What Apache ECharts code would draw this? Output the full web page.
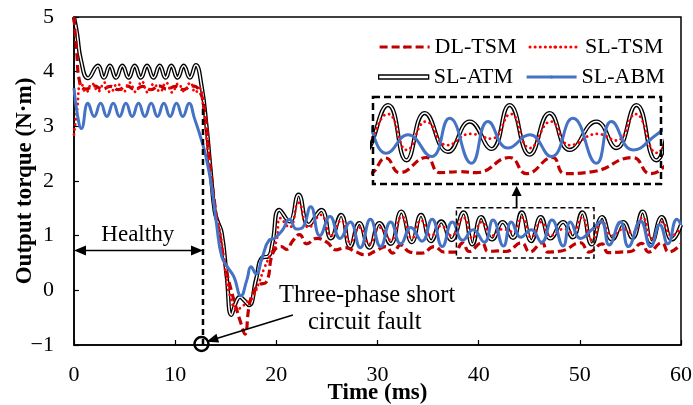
<!DOCTYPE html>
<html><head><meta charset="utf-8">
<script src="https://cdn.jsdelivr.net/npm/echarts@6/dist/echarts.min.js"></script>
<style>html,body{margin:0;padding:0;background:#fff}#c{width:693px;height:405px}</style>
</head><body><div id="c"></div>
<script>
// ---------- data (time in ms, torque in N·m) ----------
const seriesNames = ['DL-TSM', 'SL-TSM', 'SL-ATM', 'SL-ABM'];
const xTickLabels = [0, 10, 20, 30, 40, 50, 60];
const yTickLabels = [-1, 0, 1, 2, 3, 4, 5];
const faultTime = 12.75;
const healthyLevel = 0.73;
const zoomT = [37.8, 51.4];
const zoomV = [0.59, 1.51];

const dlTsm = [
  [0,5.0],[0.25,4.4],[0.6,3.78],[1.2,3.68],[2.0,3.74],[2.8,3.68],[3.6,3.73],[4.4,3.67],[5.2,3.74],[6.0,3.68],
  [6.8,3.73],[7.6,3.67],[8.4,3.74],[9.2,3.68],[10.0,3.73],[10.8,3.67],[11.6,3.74],[12.3,3.68],[12.9,3.3],[13.4,2.4],
  [13.9,1.6],[14.4,1.0],[14.9,0.5],[15.4,0.1],[16.0,-0.3],[16.5,-0.6],[16.9,-0.8],[17.3,-0.3],[17.7,-0.05],[18.3,0.1],
  [19.0,0.15],[19.7,0.7],[20.5,0.8],[21.0,0.75],[21.6,0.9],[22.3,1.02],[23.0,0.85],[24.0,0.95],[25.0,0.88],[25.9,0.74],
  [26.8,0.78],[27.9,0.7],[28.8,0.65],[29.8,0.72],[30.8,0.8],[31.5,0.68],[32.3,0.83],[33.2,0.7],[34.4,0.68],[35.6,0.8],
  [36.6,0.7],[37.6,0.7],[38.4,0.865],[39.06,0.71],[40.32,0.87],[40.95,0.71],[41.9,0.72],[42.68,0.71],[44.25,0.87],[45.05,0.7],
  [46.28,0.87],[46.85,0.7],[48.17,0.72],[50.06,0.87],[50.9,0.7],[52.2,0.85],[52.8,0.69],[54.0,0.7],[55.0,0.71],[56.1,0.86],
  [56.8,0.7],[58.1,0.87],[58.8,0.7],[60,0.85]
];
const slTsm = [
  [0,2.85],[0.3,3.3],[0.7,3.8],[1.2,3.62],[1.8,3.78],[2.4,3.64],[3.0,3.8],[3.6,3.62],[4.3,3.78],[4.9,3.63],
  [5.5,3.8],[6.1,3.63],[6.7,3.82],[7.3,3.62],[7.9,3.78],[8.5,3.63],[9.1,3.8],[9.7,3.62],[10.3,3.78],[10.9,3.64],
  [11.5,3.8],[12.0,3.62],[12.4,3.7],[12.8,3.3],[13.2,2.6],[13.6,1.9],[14.0,1.4],[14.5,1.0],[15.0,0.3],[15.5,-0.15],
  [16.1,-0.35],[16.6,-0.3],[17.2,-0.2],[17.6,-0.15],[18.2,0.1],[18.8,0.4],[19.4,0.65],[20.0,0.9],[20.4,1.32],[21.3,1.15],
  [22.2,1.6],[23.2,1.15],[24.4,1.38],[25.4,1.0],[26.4,1.28],[27.3,0.88],[28.2,1.15],[29.2,0.85],[30.2,1.15],[31.3,0.92],
  [32.4,1.35],[33.4,0.95],[34.3,1.28],[35.3,1.0],[36.3,1.18],[37.3,1.0],[38.5,1.33],[39.4,0.95],[40.3,1.25],[41.3,1.0],
  [42.4,1.12],[43.4,1.07],[44.3,1.33],[45.2,0.97],[46.2,1.25],[47.1,1.0],[48.4,1.12],[49.3,1.05],[50.2,1.33],[51.2,0.92],
  [52.2,1.25],[53.2,1.0],[54.3,1.12],[55.2,1.05],[56.2,1.33],[57.1,0.95],[58.1,1.25],[59.1,1.0],[60,1.15]
];
const slAtm = [
  [0,5.0],[0.3,4.7],[0.7,4.2],[1.4,3.88],[2.37,4.11],[2.95,3.89],[3.55,4.11],[4.15,3.89],[4.78,4.11],[5.4,3.89],
  [6.0,4.11],[6.6,3.89],[7.22,4.11],[7.85,3.89],[8.47,4.11],[9.05,3.89],[9.62,4.11],[10.23,3.89],[10.84,4.11],[11.45,3.89],
  [12.03,4.12],[12.6,3.75],[13.1,3.0],[13.5,2.2],[13.9,1.45],[14.2,1.26],[14.6,1.05],[15.1,0.25],[15.55,-0.45],[16.05,-0.2],
  [16.4,-0.12],[16.8,-0.18],[17.3,-0.27],[18.0,0.2],[18.6,0.6],[19.2,0.62],[19.6,0.85],[20.3,1.47],[21.3,1.26],[22.2,1.75],
  [23.2,1.2],[24.45,1.47],[25.4,0.95],[26.4,1.38],[27.3,0.8],[28.2,1.23],[29.2,0.78],[30.2,1.23],[31.3,0.85],[32.35,1.44],
  [33.4,0.88],[34.3,1.38],[35.3,0.9],[36.3,1.26],[37.3,0.92],[38.51,1.425],[39.38,0.84],[40.24,1.34],[41.34,0.93],[42.37,1.25],
  [43.39,0.96],[44.25,1.425],[45.2,0.9],[46.14,1.34],[47.09,0.95],[48.35,1.25],[49.29,0.97],[50.24,1.425],[51.18,0.84],[52.2,1.34],
  [53.2,0.93],[54.3,1.25],[55.2,0.96],[56.2,1.44],[57.1,0.88],[58.1,1.34],[59.1,0.93],[60,1.2]
];
const slAbm = [
  [0,3.7],[0.35,3.2],[0.73,2.96],[1.38,3.42],[2.0,3.18],[2.63,3.42],[3.25,3.18],[3.88,3.42],[4.5,3.18],[5.13,3.42],
  [5.75,3.18],[6.38,3.42],[7.0,3.18],[7.63,3.42],[8.25,3.18],[8.88,3.42],[9.5,3.18],[10.13,3.42],[10.75,3.18],[11.38,3.42],
  [11.9,3.15],[12.6,2.75],[13.1,2.4],[13.6,1.9],[14.1,1.2],[14.6,0.62],[15.2,0.42],[15.8,0.25],[16.5,-0.1],[17.1,0.2],
  [17.5,0.43],[18.0,0.3],[18.6,0.6],[19.3,0.92],[19.8,0.95],[20.6,1.1],[21.3,1.3],[22.0,1.12],[22.6,1.15],[23.4,1.53],
  [24.3,1.0],[25.3,1.35],[26.3,0.95],[27.3,1.25],[28.3,0.78],[29.3,1.3],[30.3,0.8],[31.3,1.25],[32.3,0.85],[33.3,1.15],
  [34.4,0.9],[35.4,1.3],[36.4,0.8],[37.4,1.25],[38.43,0.915],[39.45,1.11],[40.56,0.88],[41.42,1.285],[42.45,0.81],[43.23,1.25],
  [44.17,0.97],[45.2,1.11],[46.22,0.88],[47.24,1.285],[48.35,0.81],[49.06,1.25],[50.08,0.95],[51.18,1.11],[52.1,1.26],[52.9,0.83],
  [54.0,1.25],[54.8,0.8],[56.0,1.27],[57.0,0.8],[57.9,1.2],[58.7,0.85],[59.6,1.3],[60,1.2]
];

// ---------- chart ----------
const SERIF = "'Liberation Serif','Times New Roman',serif";
const C_DL = '#C00000', C_SL = '#FF0000', C_ABM = '#4472C4';

function lineSeries(name, data, lineStyle, gi) {
  return {
    name: name, type: 'line', data: data, symbol: 'none', smooth: 0.5,
    xAxisIndex: gi, yAxisIndex: gi, lineStyle: lineStyle,
    itemStyle: { color: lineStyle.color }, animation: false, silent: true, clip: true
  };
}
function seriesFor(gi) {
  return [
    lineSeries(seriesNames[2], slAtm, { color: '#000', width: 4.2 }, gi),
    lineSeries('SL-ATM-core', slAtm, { color: '#fff', width: 1.5 }, gi),
    lineSeries(seriesNames[0], dlTsm, { color: C_DL, width: 3.2, type: [8, 4] }, gi),
    lineSeries(seriesNames[1], slTsm, { color: C_SL, width: 2.8, type: [0.1, 5], cap: 'round' }, gi),
    lineSeries(seriesNames[3], slAbm, { color: C_ABM, width: 3 }, gi)
  ];
}

const legendBase = {
  left: 373, itemWidth: 50, itemHeight: 4, itemGap: 12, selectedMode: false,
  textStyle: { fontFamily: SERIF, fontSize: 22, color: '#000' }
};

const option = {
  backgroundColor: '#fff',
  animation: false,
  grid: [
    { left: 74, right: 12, top: 17, bottom: 60, show: true, borderColor: '#000', borderWidth: 1.5,
      containLabel: false, outerBoundsMode: 'none' },
    { left: 373, top: 97, width: 288, height: 87, containLabel: false, outerBoundsMode: 'none' }
  ],
  legend: [
    Object.assign({}, legendBase, { top: 31, data: [
      { name: seriesNames[0], lineStyle: { width: 3.2 } },
      { name: seriesNames[1], lineStyle: { width: 3 } }
    ] }),
    Object.assign({}, legendBase, { top: 61, data: [
      { name: seriesNames[2], icon: 'rect', itemStyle: { color: '#fff', borderColor: '#000', borderWidth: 1.3 } },
      { name: seriesNames[3], lineStyle: { width: 3 } }
    ] })
  ],
  xAxis: [
    {
      type: 'value', gridIndex: 0, min: xTickLabels[0], max: xTickLabels[xTickLabels.length - 1], interval: 10,
      name: 'Time (ms)', nameLocation: 'middle', nameGap: 37, nameMoveOverlap: false,
      nameTextStyle: { fontFamily: SERIF, fontSize: 23, fontWeight: 'bold', color: '#000' },
      axisLine: { onZero: false, lineStyle: { color: '#000', width: 1.5 } },
      axisTick: { inside: true, length: 5, lineStyle: { color: '#000', width: 1.2 } },
      axisLabel: { fontFamily: SERIF, fontSize: 22, color: '#000', margin: 19 },
      splitLine: { show: false }
    },
    { type: 'value', gridIndex: 1, min: zoomT[0], max: zoomT[1], show: false }
  ],
  yAxis: [
    {
      type: 'value', gridIndex: 0, min: yTickLabels[0], max: yTickLabels[yTickLabels.length - 1], interval: 1,
      name: 'Output torque (N·m)', nameLocation: 'middle', nameGap: 37, nameRotate: 90, nameMoveOverlap: false,
      nameTextStyle: { fontFamily: SERIF, fontSize: 23, fontWeight: 'bold', color: '#000' },
      axisLine: { onZero: false, lineStyle: { color: '#000', width: 1.5 } },
      axisTick: { inside: true, length: 5, lineStyle: { color: '#000', width: 1.2 } },
      axisLabel: { fontFamily: SERIF, fontSize: 22, color: '#000', margin: 20,
        formatter: v => (v < 0 ? '\u2212' + Math.abs(v) : String(v)) },
      splitLine: { show: false }
    },
    { type: 'value', gridIndex: 1, min: zoomV[0], max: zoomV[1], show: false }
  ],
  series: seriesFor(0).concat(seriesFor(1))
};

const chart = echarts.init(document.getElementById('c'), null, { renderer: 'canvas' });
chart.setOption(option);

const P = (t, v) => chart.convertToPixel({ gridIndex: 0 }, [t, v]);
const Pz = (t, v) => chart.convertToPixel({ gridIndex: 1 }, [t, v]);

function head(tip, from, len, hw) {
  const dx = tip[0] - from[0], dy = tip[1] - from[1];
  const d = Math.hypot(dx, dy), ux = dx / d, uy = dy / d;
  const bx = tip[0] - ux * len, by = tip[1] - uy * len;
  return { type: 'polygon', shape: { points: [tip, [bx - uy * hw, by + ux * hw], [bx + uy * hw, by - ux * hw]] },
    style: { fill: '#000' }, z: 20 };
}
function seg(a, b, w, dash) {
  return { type: 'line', shape: { x1: a[0], y1: a[1], x2: b[0], y2: b[1] },
    style: { stroke: '#000', lineWidth: w, lineDash: dash || null }, z: 20 };
}
function txt(x, y, s, align, size) {
  return { type: 'text', x: x, y: y, z: 21,
    style: { text: s, fontFamily: SERIF, fontSize: size || 23, fill: '#000', align: align || 'center', verticalAlign: 'middle' } };
}

const g = [];
const fb = P(faultTime, yTickLabels[0]), ft = P(faultTime, 3.4);
g.push(seg(fb, ft, 2.5, [6, 4]));
const cc = P(12.6, -1);
g.push({ type: 'circle', shape: { cx: cc[0], cy: cc[1] - 1, r: 7 }, style: { fill: 'none', stroke: '#000', lineWidth: 2.5 }, z: 22 });
const h0 = P(0, healthyLevel), h1 = P(faultTime, healthyLevel);
g.push(seg([h0[0] + 6, h0[1]], [h1[0] - 6, h1[1]], 1.5));
g.push(head(h0, h1, 12, 5));
g.push(head(h1, h0, 12, 5));
const ht = P(6.3, 1.02);
g.push(txt(ht[0], ht[1], 'Healthy'));
const la = P(21.64, -0.45), lb = P(13.08, -0.94);
g.push(seg(la, [lb[0] + (la[0] - lb[0]) * 0.1, lb[1] + (la[1] - lb[1]) * 0.1], 1.5));
g.push(head(lb, la, 12, 4.5));
g.push(txt(279, 296, 'Three-phase short', 'left', 24.5));
g.push(txt(308, 323, 'circuit fault', 'left', 24.5));
const z0 = P(zoomT[0], zoomV[1]), z1 = P(zoomT[1], zoomV[0]);
g.push({ type: 'rect', shape: { x: z0[0], y: z0[1], width: z1[0] - z0[0], height: z1[1] - z0[1] },
  style: { fill: 'none', stroke: '#000', lineWidth: 1.5, lineDash: [5, 3] }, z: 20 });
const i0 = Pz(zoomT[0], zoomV[1]), i1 = Pz(zoomT[1], zoomV[0]);
g.push({ type: 'rect', shape: { x: i0[0], y: i0[1], width: i1[0] - i0[0], height: i1[1] - i0[1] },
  style: { fill: 'none', stroke: '#000', lineWidth: 2.5, lineDash: [7, 4] }, z: 20 });
const ax = P(43.75, zoomV[1]);
const atip = [ax[0], i1[1] + 2];
g.push(seg(ax, [atip[0], atip[1] + 8], 1.8));
g.push(head(atip, ax, 10, 5));

chart.setOption({ graphic: g });
</script>
</body></html>
